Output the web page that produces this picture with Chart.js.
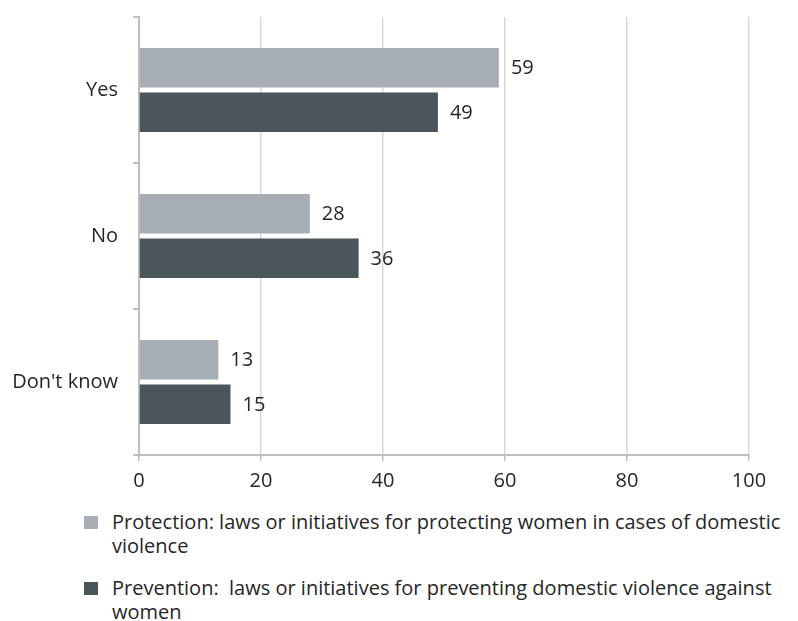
<!DOCTYPE html>
<html>
<head>
<meta charset="utf-8">
<script src="https://cdn.jsdelivr.net/npm/chart.js@4.4.0/dist/chart.umd.min.js"></script>
<style>
  body { margin: 0; background: #fff; font-family: "Open Sans", sans-serif; }
  #wrap { position: relative; width: 798px; height: 621px; }
  #box { position: absolute; left: 0; top: 0; width: 798px; height: 500px; }
  #legend { position: absolute; left: 84px; top: 510px; width: 714px; color: #262626; font-size: 20px; line-height: 24px; }
  .item { position: relative; padding-left: 28px; margin-bottom: 18px; white-space: pre-wrap; }
  .sw { position: absolute; left: 0; top: 6px; width: 14px; height: 13px; }
</style>
</head>
<body>
<div id="wrap">
  <div id="box"><canvas id="chart"></canvas></div>
  <div id="legend"></div>
</div>
<script>
var categories = ["Yes", "No", "Don't know"];
var protection = [59, 28, 13];
var prevention = [49, 36, 15];
var seriesNames = [
  "Protection: laws or initiatives for protecting women in cases of domestic violence",
  "Prevention:  laws or initiatives for preventing domestic violence against women"
];
var barColors = ["#a6adb4", "#4b565c"];

// value labels at the bar ends
var valueLabels = {
  id: "valueLabels",
  afterDatasetsDraw: function(chart) {
    var ctx = chart.ctx;
    ctx.save();
    ctx.font = "20px 'Open Sans'";
    ctx.fillStyle = "#262626";
    ctx.textBaseline = "middle";
    ctx.textAlign = "left";
    chart.data.datasets.forEach(function(ds, i) {
      chart.getDatasetMeta(i).data.forEach(function(el, j) {
        ctx.fillText(ds.data[j], el.x + 12, el.y + 1);
      });
    });
    ctx.restore();
  }
};

var chart = new Chart("chart", {
  type: "bar",
  data: {
    labels: categories,
    datasets: [{
      label: seriesNames[0],
      data: protection,
      backgroundColor: barColors[0]
    }, {
      label: seriesNames[1],
      data: prevention,
      backgroundColor: barColors[1]
    }]
  },
  options: {
    indexAxis: "y",
    responsive: true,
    maintainAspectRatio: false,
    animation: false,
    datasets: { bar: { categoryPercentage: 0.61, barPercentage: 0.89 } },
    layout: { padding: { top: 17, right: 49, left: 0, bottom: 0 } },
    plugins: { legend: { display: false }, tooltip: { enabled: false } },
    scales: {
      x: {
        min: 0, max: 100,
        ticks: { stepSize: 20, color: "#262626", font: { family: "Open Sans", size: 20 }, padding: 8 },
        grid: { color: "#d9d9d9", lineWidth: 1.5, tickColor: "#bfbfbf", tickLength: 6 },
        border: { color: "#bfbfbf", width: 2 },
        afterFit: function(s) { s.height = 45; }
      },
      y: {
        ticks: { color: "#262626", font: { family: "Open Sans", size: 20 }, padding: 15 },
        grid: { drawOnChartArea: false, tickColor: "#bfbfbf", tickLength: 6, lineWidth: 2 },
        border: { color: "#bfbfbf", width: 2 },
        afterFit: function(s) { s.width = 139; s.paddingTop = 0; s.paddingBottom = 0; }
      }
    }
  },
  plugins: [valueLabels]
});

var legend = document.getElementById("legend");
seriesNames.forEach(function(name, i) {
  var item = document.createElement("div");
  item.className = "item";
  var sw = document.createElement("span");
  sw.className = "sw";
  sw.style.background = barColors[i];
  item.appendChild(sw);
  item.appendChild(document.createTextNode(name));
  legend.appendChild(item);
});
</script>
</body>
</html>
